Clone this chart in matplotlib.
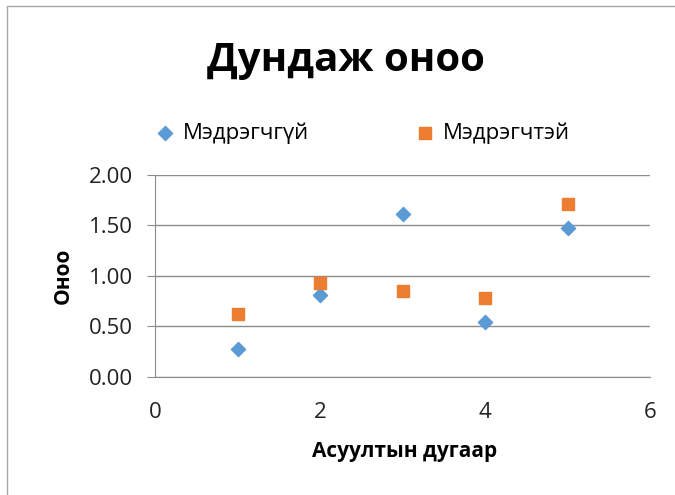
import matplotlib
matplotlib.use("Agg")
import matplotlib.pyplot as plt
from matplotlib.patches import Rectangle

plt.rcParams['font.family'] = ['Open Sans', 'DejaVu Sans']

# Data
questions = [1, 2, 3, 4, 5]
no_sensor = [0.27, 0.81, 1.61, 0.54, 1.47]
with_sensor = [0.62, 0.93, 0.85, 0.78, 1.71]
series_names = ["Мэдрэгчгүй", "Мэдрэгчтэй"]
title = "Дундаж оноо"
xlabel = "Асуултын дугаар"
ylabel = "Оноо"

fig = plt.figure(figsize=(6.75, 4.95), dpi=100)
W, H = 675, 495

# chart frame
fig.patches.append(Rectangle((7 / W, -0.1), 1.2, 1 - 6 / H + 0.1,
                             transform=fig.transFigure, fill=False,
                             edgecolor="#a6a6a6", lw=1))

ax = fig.add_axes([155 / W, 1 - 376.7 / H, (650 - 155) / W, (376.7 - 175) / H])

ax.scatter(questions, no_sensor, marker="D", s=52, color="#5B9BD5",
           label=series_names[0], zorder=3)
ax.scatter(questions, with_sensor, marker="s", s=80, color="#ED7D31",
           label=series_names[1], zorder=3)

ax.set_xlim(0, 6)
ax.set_ylim(0, 2)
ax.set_xticks([0, 2, 4, 6])
ax.set_yticks([0, 0.5, 1.0, 1.5, 2.0])
ax.set_yticklabels([f"{v:.2f}" for v in [0, 0.5, 1.0, 1.5, 2.0]])

ax.grid(axis="y", color="#8c8c8c", lw=1)
ax.set_axisbelow(True)
for s in ["top", "right"]:
    ax.spines[s].set_visible(False)
ax.spines["left"].set_color("#8c8c8c")
ax.spines["bottom"].set_color("#8c8c8c")

ax.tick_params(axis="y", length=6, color="#8c8c8c", labelsize=16, pad=10,
               labelcolor="#222222")
ax.tick_params(axis="x", length=0, labelsize=16, pad=18, labelcolor="#222222")

ax.set_xlabel(xlabel, fontsize=15, fontweight="bold")
ax.xaxis.set_label_coords(0.505, -0.32)
ax.set_ylabel(ylabel, fontsize=15, fontweight="bold")
ax.yaxis.set_label_coords(-0.164, 0.5)

fig.text(346 / W, 1 - 60 / H, title, fontsize=29, fontweight="bold",
         ha="center", va="center")

fig.legend(loc="center", bbox_to_anchor=(362 / W, 1 - 133 / H), ncol=2,
           frameon=False, fontsize=16, columnspacing=4.7, handlelength=1.0,
           handletextpad=0.3, scatterpoints=1)

fig.savefig("out.png", dpi=100)
